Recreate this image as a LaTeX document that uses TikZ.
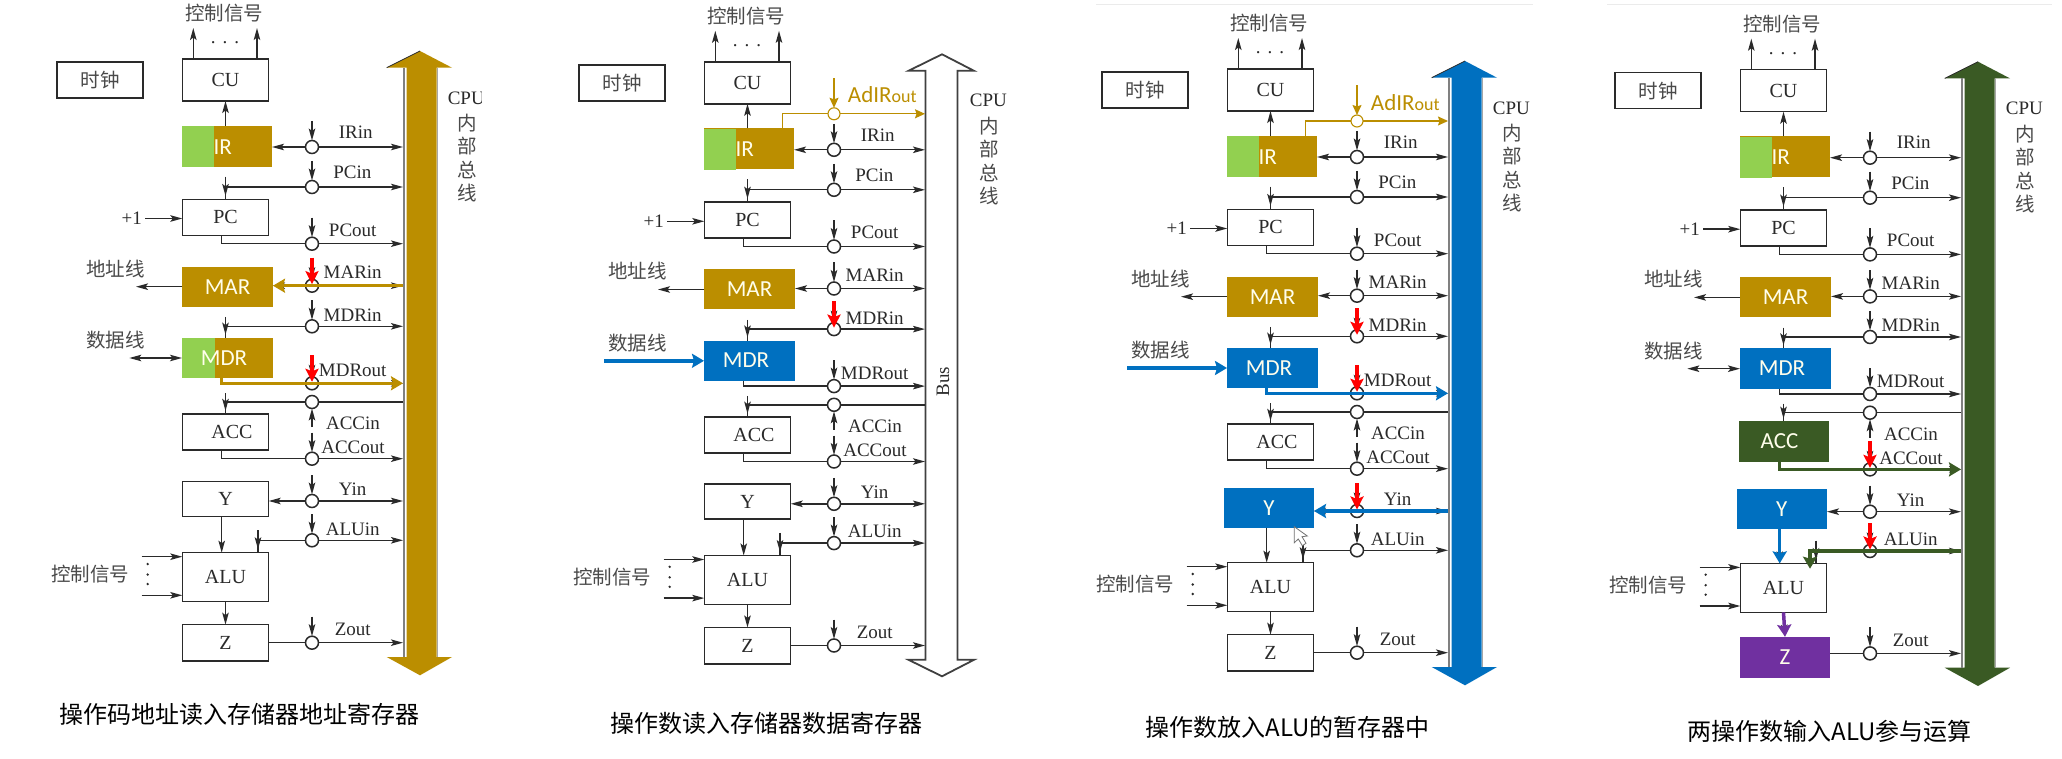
\documentclass[tikz,border=0pt]{standalone}
\usepackage{fontspec}
\setmainfont{Liberation Serif}
\newfontfamily\cjkfam{Noto Sans CJK SC}
\newfontfamily\calfam{Carlito}
\usetikzlibrary{arrows.meta,decorations.markings}
\definecolor{cgold}{HTML}{BB8E00}
\definecolor{cgreen}{HTML}{92D050}
\definecolor{cblue}{HTML}{0070C0}
\definecolor{cdkgreen}{HTML}{3A5A24}
\definecolor{cpurple}{HTML}{7030A0}
\definecolor{cink}{HTML}{2A2A2A}
\definecolor{cgrayt}{HTML}{4A4A4A}
\newcommand{\fs}[1]{\fontsize{#1}{#1}\selectfont}
\tikzset{
  mytip/.tip={Stealth[length=12pt,width=6.5pt,inset=2.5pt]},
  redtip/.tip={Stealth[length=13pt,width=13pt,inset=2.5pt]},
  thicktip/.tip={Stealth[length=12pt,width=14pt,inset=2pt]},
  goldtip/.tip={Stealth[length=10pt,width=9pt,inset=1.5pt]},
  midtip/.style={postaction={decorate},decoration={markings,mark=at position #1 with {\arrow{mytip}}}},
  wire/.style={draw=cink,line width=1.4pt},
  arw/.style={wire,-{mytip}},
  stubline/.style={wire,midtip=.85},
  redarrow/.style={draw=red,line width=3.5pt,-{redtip}},
  thk/.style={draw=#1,line width=3.5pt,-{thicktip}},
  swc/.style={circle,draw=cink,line width=1.5pt,fill=white,minimum size=13pt,inner sep=0pt,outer sep=0pt},
  dotn/.style={circle,fill=cink,minimum size=2.6pt,inner sep=0pt},
  plainbox/.style={rectangle,draw=cink,line width=1.5pt,fill=white,inner sep=0pt,outer sep=0pt,text=cink,font=\fs{20}},
  colbox/.style={rectangle,fill=#1,inner sep=0pt,outer sep=0pt,text=white!92!yellow,font=\calfam\fs{23}},
  lab/.style={text=cink,font=\fs{19},inner sep=0pt},
  cjk/.style={text=cgrayt,font=\cjkfam\fs{19.5},inner sep=0pt},
  captxt/.style={text=black,font=\cjkfam\fs{24},inner sep=0pt},
  % box geometry and look; panels override these
  Yboxs/.style={plainbox,at={(225.5,498.8)},minimum width=86.4pt,minimum height=35pt},
  Zboxs/.style={plainbox,at={(225.5,642.8)},minimum width=86.4pt,minimum height=36.3pt},
  ACCboxs/.style={plainbox,at={(225.5,432)},minimum width=86.4pt,minimum height=36pt},
  MDRboxs/.style={colbox=cblue,at={(227.5,358)},minimum width=91pt,minimum height=40.5pt},
  datawire/.style={wire,{mytip}-{mytip}},
}
\def\ACCtxt{\hspace*{13pt}ACC}
\def\mdrhook{}
\def\cpulim{500}
\def\datax{129.3}
% bus
\newcommand{\busnode}{\node[minimum width=34pt,minimum height=590pt,inner sep=0pt,outer sep=0pt] (bus) at (420,362.5) {};}
\newcommand{\busfilled}[1]{%
  \fill[#1] (406.5,67.7) -- (386.7,67.7) -- (420,51) -- (452,67.7) -- (436.7,67.7) -- (436.7,657) -- (452,657) -- (420,675.3) -- (386.7,657) -- (406.5,657) -- cycle;
  \draw[draw=cink,line width=.8pt] (386.7,67.7) -- (420,51);
  \draw[draw=black!50,line width=2.8pt] (404,67.7) -- (404,657);
  \draw[draw=black!35,line width=1.2pt] (437.3,67.7) -- (437.3,657);
  \busnode}
\newcommand{\busopen}{%
  \draw[draw=black!75,line width=1.8pt,fill=white,line join=miter] (403.5,68) -- (386.5,68) -- (420,51.5) -- (452,68) -- (435.5,68) -- (435.5,657) -- (452,657) -- (420,673.5) -- (386.5,657) -- (403.5,657) -- cycle;
  \busnode
  \node[lab,rotate=90] (buslab) at (421,379) {Bus};}
% switch: name, y, label x, label y, label
\newcommand{\sw}[5]{%
  \node[swc] (#1) at (312,#2) {};
  \coordinate (#1-t) at ([yshift=26pt]#1.center);
  \coordinate (#1-r) at ([yshift=28pt]#1.center);
  \coordinate (#1-q) at ([yshift=1.5pt]#1.center);
  \draw[arw] (#1-t) -- (#1);
  \node[lab] (#1-l) at (#3,#4) {#5};}
\newcommand{\tobus}[1]{\draw[arw] (#1) -- (#1 -| bus.west);}
\newcommand{\redstub}[1]{\draw[redarrow] (#1-r) -- (#1-q);}
\newcommand{\basepanel}{%
  % boxes
  \node[plainbox,minimum width=86.4pt,minimum height=36pt,text=cgrayt,font=\cjkfam\fs{19.5}] (clk) at (100,80) {时钟};
  \node[plainbox,minimum width=86.4pt,minimum height=42pt] (CU) at (225.5,80) {CU};
  \node[colbox=cgold,minimum width=90pt,minimum height=41pt] (IR) at (227,146.2) {};
  \node[fill=cgreen,minimum width=32pt,minimum height=41pt,inner sep=0pt,anchor=north west] (IRg) at (IR.north west) {};
  \node[text=white!92!yellow,font=\calfam\fs{23},inner sep=0pt] (IRt) at (222.7,146.7) {IR};
  \node[plainbox,minimum width=86.4pt,minimum height=36pt] (PC) at (225.5,217.3) {PC};
  \node[colbox=cgold,minimum width=91pt,minimum height=40pt] (MAR) at (227.5,286.7) {MAR};
  \node[MDRboxs] (MDR) {};
  \mdrhook
  \node[text=white!92!yellow,font=\calfam\fs{23},inner sep=0pt] (MDRt) at (224,357.7) {MDR};
  \node[ACCboxs] (ACC) {\ACCtxt};
  \node[Yboxs] (Y) {Y};
  \node[plainbox,minimum width=86.4pt,minimum height=49pt] (ALU) at (225.5,577.2) {ALU};
  \node[Zboxs] (Z) {Z};
  % free ends
  \coordinate (c1) at (193.3,28);
  \coordinate (c2) at (257,28);
  \coordinate (outx) at (221.7,0);
  \coordinate (addr) at (136,286.7);
  \coordinate (data) at (\datax,358);
  \coordinate (pcs) at (225.5,176.7);
  \coordinate (mds) at (225.5,317);
  \coordinate (acs) at (225.5,393);
  \coordinate (als) at (258,530);
  \coordinate (ctl1) at (141.7,556.7);
  \coordinate (ctl2) at (141.7,595.3);
  % top
  \node[cjk] (sig) at (224,13) {控制信号};
  \node[lab] (cudots) at (225,43) {.\hspace{7pt}.\hspace{7pt}.};
  \draw[arw] (c1 |- CU.north) -- (c1);
  \draw[arw] (c2 |- CU.north) -- (c2);
  \draw[arw] (CU.south |- IR.north) -- (CU.south);
  % bus label
  \begin{scope}
    \clip (440,80) rectangle (\cpulim,115);
    \node[lab] (cpu) at (466.3,98) {CPU};
  \end{scope}
  \node[cjk] (b1) at (467,123) {内};
  \node[cjk] (b2) at (467,146.5) {部};
  \node[cjk] (b3) at (467,170) {总};
  \node[cjk] (b4) at (467,193.5) {线};
  % switches
  \sw{IRin}{147}{355.7}{132}{IRin}
  \sw{PCin}{187}{352.3}{172.3}{PCin}
  \sw{PCout}{243.7}{352.7}{230}{PCout}
  \sw{MARin}{285.7}{352.7}{272.7}{MARin}
  \sw{MDRin}{326.3}{352.7}{315}{MDRin}
  \sw{MDRout}{383.3}{352.7}{370.7}{MDRout}
  \sw{ACCout}{458.7}{353}{447.7}{ACCout}
  \sw{Yin}{501}{352.7}{489.3}{Yin}
  \sw{ALUin}{540.3}{352.7}{529}{ALUin}
  \sw{Zout}{642.7}{352.7}{629.7}{Zout}
  \node[swc] (ACCin) at (312,402) {};
  \coordinate (ACCin-t) at ([yshift=-25pt]ACCin.center);
  \draw[arw] (ACCin-t) -- (ACCin);
  \node[lab] (ACCin-l) at (353,423.3) {ACCin};
  % IR
  \draw[arw] (IRin) -- (IR.east |- IRin);
  \tobus{IRin}
  % PC
  \draw[stubline] (pcs) -- (pcs |- PC.north);
  \draw[wire] (PCin) -- (PCin -| pcs);
  \tobus{PCin}
  \node[lab,inner sep=3pt] (plus) at (131.7,218.5) {+1};
  \draw[arw] (plus) -- (plus -| PC.west);
  \draw[wire] (outx |- PC.south) |- (PCout);
  \tobus{PCout}
  % MAR
  \draw[arw] (MAR.west) -- (addr);
  \node[cjk] (addrl) at (115.7,268.7) {地址线};
  \draw[arw] (MARin) -- (MAR.east |- MARin);
  \tobus{MARin}
  % MDR
  \draw[stubline] (mds) -- (mds |- MDR.north);
  \draw[wire] (MDRin) -- (MDRin -| mds);
  \tobus{MDRin}
  \draw[datawire] (data) -- (data -| MDR.west);
  \node[cjk] (datal) at (115.7,340) {数据线};
  \draw[wire] (outx |- MDR.south) |- (MDRout);
  \tobus{MDRout}
  % ACC
  \draw[stubline] (acs) -- (acs |- ACC.north);
  \draw[wire] (ACCin) -- (ACCin -| acs);
  \draw[wire] (ACCin) -- (ACCin -| bus.west);
  \draw[wire] (outx |- ACC.south) |- (ACCout);
  \tobus{ACCout}
  % Y
  \draw[arw] (Yin) -- (Y.east |- Yin);
  \tobus{Yin}
  \draw[arw] (outx |- Y.south) -- (outx |- ALU.north);
  % ALU
  \draw[stubline] (als) -- (als |- ALU.north);
  \draw[wire] (ALUin) -- (ALUin -| als);
  \tobus{ALUin}
  \draw[arw] (ctl1) -- (ctl1 -| ALU.west);
  \draw[arw] (ctl2) -- (ctl2 -| ALU.west);
  \node[dotn] (vd1) at (147.7,564) {};
  \node[dotn] (vd2) at (147.7,574.5) {};
  \node[dotn] (vd3) at (147.7,584) {};
  \node[cjk] (ctl) at (90,574) {控制信号};
  \draw[arw] (ALU.south) -- (Z.north);
  % Z
  \draw[wire] (Z.east |- Zout) -- (Zout);
  \tobus{Zout}
}
\newcommand{\adir}{%
  \node[swc,draw=cgold,line width=1.1pt,minimum size=12pt] (Ad) at (312,111) {};
  \coordinate (Ad-t) at (312,75.5);
  \coordinate (Ad-i) at (260.3,0);
  \draw[draw=cgold,line width=1.2pt] (Ad-i |- IR.north) |- (Ad);
  \draw[draw=cgold,line width=1.2pt,-{goldtip}] (Ad) -- (Ad -| bus.west);
  \draw[draw=cgold,line width=1.2pt,-{goldtip}] (Ad-t) -- (Ad);
  \node[text=cgold,inner sep=0pt] (Ad-l) at (360.3,92.2) {\calfam\fs{23}AdIR\fs{18}out};
}
\begin{document}
\begin{tikzpicture}[x=1pt,y=-1pt]
\useasboundingbox (0,0) rectangle (2062,759);
\fill[white] (0,0) rectangle (2062,759);
\draw[draw=black!8,line width=1pt] (1096,5) -- (1533,5);
\draw[draw=black!8,line width=1pt] (1607,5) -- (2052,5);
% panel 1
\begin{scope}[name prefix=p1-,
  MDRboxs/.style={colbox=cgold,at={(227.5,358)},minimum width=91pt,minimum height=40.5pt}]
  \def\cpulim{481}
  \def\mdrhook{\node[fill=cgreen,minimum width=33pt,minimum height=40.5pt,inner sep=0pt,anchor=north west] (MDRg) at (MDR.north west) {};}
  \busfilled{cgold}
  \basepanel
  \redstub{MARin}
  \redstub{MDRout}
  \draw[thk=cgold] (MARin -| bus.west) -- (MARin -| MAR.east);
  \draw[thk=cgold] (outx |- MDR.south) |- (MDRout -| bus.west);
\end{scope}
\node[captxt] (cap1) at (239.7,714.3) {操作码地址读入存储器地址寄存器};
% panel 2
\begin{scope}[shift={(522,2.8)},name prefix=p2-,
  datawire/.style={thk=cblue}]
  \def\datax{82}
  \busopen
  \basepanel
  \adir
  \redstub{MDRin}
\end{scope}
\node[captxt] (cap2) at (766.7,723.3) {操作数读入存储器数据寄存器};
% panel 3
\begin{scope}[shift={(1045,10)},name prefix=p3-,
  datawire/.style={thk=cblue},
  Yboxs/.style={colbox=cblue,at={(224,497.7)},minimum width=90pt,minimum height=40pt}]
  \def\datax{82}
  \busfilled{cblue}
  \basepanel
  \adir
  \redstub{MDRin}
  \redstub{MDRout}
  \redstub{Yin}
  \draw[thk=cblue] (outx |- MDR.south) |- (MDRout -| bus.west);
  \draw[thk=cblue] (Yin -| bus.west) -- (Yin -| Y.east);
\end{scope}
\draw[draw=black!55,fill=white,line width=.8pt] (1294.3,526.7) -- (1294.3,542.7) -- (1298.3,539) -- (1302.3,545.7) -- (1306,543.3) -- (1302,536.7) -- (1307.3,536) -- cycle;
\node[captxt] (cap3) at (1287.8,727.3) {操作数放入ALU的暂存器中};
% panel 4
\begin{scope}[shift={(1558,10.7)},name prefix=p4-,
  Yboxs/.style={colbox=cblue,at={(223.8,498.3)},minimum width=90.3pt,minimum height=40pt},
  ACCboxs/.style={colbox=cdkgreen,at={(226,430.8)},minimum width=90pt,minimum height=40.4pt},
  Zboxs/.style={colbox=cpurple,at={(227,646.5)},minimum width=90pt,minimum height=41pt}]
  \def\ACCtxt{ACC\hspace*{9pt}}
  \busfilled{cdkgreen}
  \basepanel
  \redstub{ACCout}
  \redstub{ALUin}
  \coordinate (g) at (252,558);
  \draw[thk=cdkgreen] (outx |- ACC.south) |- (ACCout -| bus.west);
  \draw[thk=cdkgreen] (ALUin -| bus.west) -| (g);
  \draw[thk=cblue] (outx |- Y.south) -- (outx |- ALU.north);
  \draw[thk=cpurple] (ALU.south) -- (Z.north);
\end{scope}
\node[captxt] (cap4) at (1829.7,731.7) {两操作数输入ALU参与运算};
\end{tikzpicture}
\end{document}
